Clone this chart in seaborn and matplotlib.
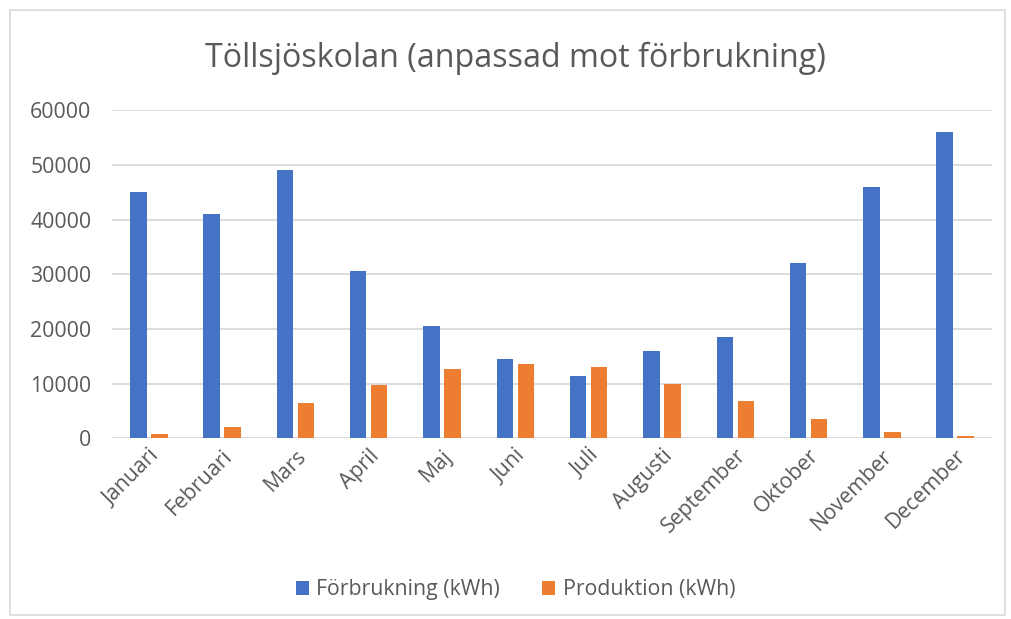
import pandas as pd
import numpy as np
import seaborn as sns
import matplotlib
matplotlib.use("Agg")
import matplotlib.pyplot as plt
from matplotlib.patches import Rectangle

# data
months = ["Januari", "Februari", "Mars", "April", "Maj", "Juni", "Juli",
          "Augusti", "September", "Oktober", "November", "December"]
forbrukning = [45000, 41000, 49000, 30500, 20500, 14500, 11400, 15900, 18500, 32000, 46000, 56000]
produktion = [700, 2100, 6400, 9800, 12700, 13600, 13000, 9900, 6900, 3500, 1100, 450]
series = ["Förbrukning (kWh)", "Produktion (kWh)"]
colors = ["#4472C4", "#ED7D31"]

df = pd.DataFrame({
    "month": months * 2,
    "value": forbrukning + produktion,
    "serie": [series[0]] * 12 + [series[1]] * 12,
})

sns.set_theme(style="white")
plt.rcParams['font.family'] = ['Open Sans', 'DejaVu Sans']
txt = "#595959"

fig = plt.figure(figsize=(10.11, 6.19), dpi=100)
ax = fig.add_axes([0.111, 0.292, 0.870, 0.530])

sns.barplot(data=df, x="month", y="value", hue="serie", palette=colors,
            saturation=1, width=0.573, gap=0.22, linewidth=0,
            ax=ax, legend=True, zorder=3)

ax.set_ylim(0, 60000)
ax.set_yticks(np.arange(0, 60001, 10000))
ax.set_xlim(-0.5, 11.5)
ax.grid(axis="y", color="#d9d9d9", linewidth=1.3, zorder=0)
ax.set_axisbelow(True)
for s in ax.spines.values():
    s.set_visible(False)
ax.set_xlabel("")
ax.set_ylabel("")
ax.tick_params(axis="x", length=0, colors=txt, labelsize=15.3, pad=5)
ax.tick_params(axis="y", length=0, colors=txt, labelsize=15.3, pad=15)
plt.setp(ax.get_xticklabels(), rotation=45, ha="right", rotation_mode="anchor")

ax.get_legend().remove()
handles, labels = ax.get_legend_handles_labels()
fig.legend(handles, labels, loc="center", bbox_to_anchor=(0.51, 0.047), ncol=2,
           frameon=False, fontsize=15.3, labelcolor=txt, handlelength=0.6,
           handleheight=0.6, handletextpad=0.35, columnspacing=2.0)

fig.text(0.51, 0.905, "Töllsjöskolan (anpassad mot förbrukning)", ha="center",
         va="center", fontsize=23.2, color=txt)

fig.patches.append(Rectangle((0.0099, 0.0065), 0.984, 0.9775, transform=fig.transFigure,
                             fill=False, edgecolor="#d9d9d9", linewidth=1.2))

fig.savefig("out.png", dpi=100)
